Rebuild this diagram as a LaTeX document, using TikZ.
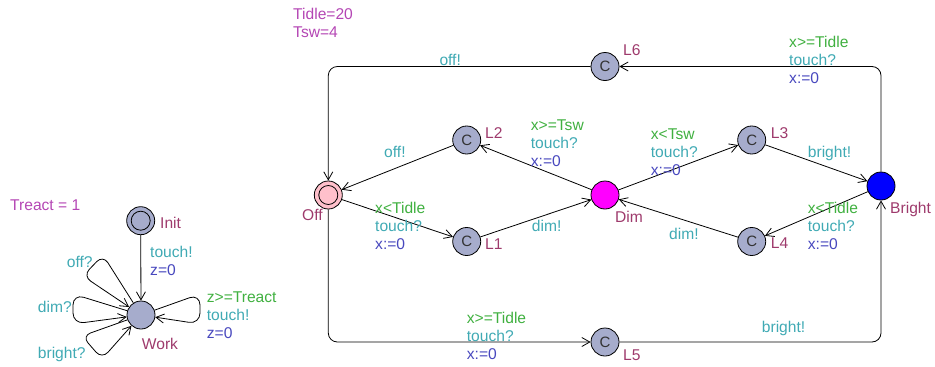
\documentclass[tikz,border=0pt]{standalone}
\usepackage{fontspec}
\setmainfont{Liberation Sans}
\usetikzlibrary{arrows.meta}
\definecolor{namec}{RGB}{158,58,108}
\definecolor{guardc}{RGB}{64,176,64}
\definecolor{syncc}{RGB}{64,170,180}
\definecolor{updc}{RGB}{72,72,190}
\definecolor{declc}{RGB}{180,70,180}
\definecolor{locfill}{RGB}{166,172,204}
\definecolor{offfill}{RGB}{255,192,203}
\definecolor{dimfill}{RGB}{255,0,255}
\definecolor{brightfill}{RGB}{0,0,255}
\begin{document}
\begin{tikzpicture}[x=1pt,y=-1pt,
  every node/.style={font=\fontsize{15.6}{18}\selectfont},
  loc/.style={circle,draw=black,line width=0.8pt,fill=locfill,minimum size=28pt,inner sep=0pt},
  comm/.style={loc,font=\fontsize{15}{18}\selectfont,text=black!80},
  edge/.style={draw=black,line width=0.8pt,-{Straight Barb[length=8pt,width=9pt,line width=0.8pt]}},
  lbl/.style={inner sep=0pt,anchor=base west},
  nm/.style={lbl,text=namec},
  sy/.style={lbl,text=syncc},
  multi/.style={inner sep=0pt,anchor=north west,align=left},
  decl/.style={multi,text=declc}
]
\useasboundingbox (0,0) rectangle (935,367);

% ---------- left automaton ----------
\node[loc] (Init) at (140.7,220.7) {};
\draw[line width=0.8pt] (Init.center) circle (9.5pt);
\node[loc] (Work) at (141,315) {};

\draw[edge] (Init) -- (Work);
\draw[edge,rounded corners=9pt] (Work) -- (103,255) -- (83,276) -- (Work);
\draw[edge,rounded corners=11pt] (Work) -- (73,294) -- (73,324) -- (Work);
\draw[edge,rounded corners=9pt] (Work) -- (82,336) -- (102,359) -- (Work);
\draw[edge,rounded corners=11pt] (Work) -- (200,294) -- (200,324) -- (Work);

\node[lbl,text=declc] (treact) at (10,210.4) {Treact = 1};
\node[nm] (initname) at (160,228.1) {Init};
\node[nm] (workname) at (141.7,349.4) {Work};
\node[multi] (initlab) at (150,246.4) {\textcolor{syncc}{touch!}\\\textcolor{updc}{z=0}};
\node[sy] (offq) at (66.7,267.1) {off?};
\node[sy] (dimq) at (37.7,312.7) {dim?};
\node[sy] (brightq) at (37.7,358.7) {bright?};
\node[multi] (rlab) at (206.7,292) {\textcolor{guardc}{z>=Treact}\\\textcolor{syncc}{touch!}\\\textcolor{updc}{z=0}};

% ---------- right automaton ----------
\node[decl] (decl) at (293,8) {Tidle=20\\Tsw=4};

\node[loc,fill=offfill] (Off) at (328.3,195) {};
\draw[line width=0.8pt] (Off.center) circle (9.5pt);
\node[comm] (L2) at (466.7,140) {C};
\node[comm] (L1) at (466.7,241.5) {C};
\node[loc,fill=dimfill] (Dim) at (605,195) {};
\node[comm] (L3) at (751.7,140) {C};
\node[comm] (L4) at (751.7,241.5) {C};
\node[loc,fill=brightfill] (Bright) at (881,186) {};
\node[comm] (L6) at (605,66.5) {C};
\node[comm] (L5) at (605,342) {C};

\draw[edge,rounded corners=9pt] (L6) -| (Off);
\draw[edge,rounded corners=9pt] (Bright) |- (L6);
\draw[edge,rounded corners=9pt] (Off) |- (L5);
\draw[edge,rounded corners=9pt] (L5) -| (Bright);
\draw[edge] (L2) -- (Off);
\draw[edge] (Dim) -- (L2);
\draw[edge] (Off) -- (L1);
\draw[edge] (L1) -- (Dim);
\draw[edge] (Dim) -- (L3);
\draw[edge] (L3) -- (Bright);
\draw[edge] (Bright) -- (L4);
\draw[edge] (L4) -- (Dim);

\node[nm] (offname) at (302,220.4) {Off};
\node[nm] (l2name) at (485,138.4) {L2};
\node[nm] (l1name) at (485,249.4) {L1};
\node[nm] (dimname) at (615,222.1) {Dim};
\node[nm] (l3name) at (770.7,138.4) {L3};
\node[nm] (l4name) at (770.7,248.4) {L4};
\node[nm] (brightname) at (890,213.1) {Bright};
\node[nm] (l6name) at (623,55.4) {L6};
\node[nm] (l5name) at (623,360.4) {L5};

\node[sy] (offtop) at (439.3,65.4) {off!};
\node[sy] (offl2) at (384,157.1) {off!};
\node[sy] (diml1) at (531.7,231.1) {dim!};
\node[sy] (diml4) at (669,239.4) {dim!};
\node[sy] (brl3) at (807.7,157.1) {bright!};
\node[sy] (brl5) at (761.7,332.1) {bright!};

\node[multi] (g1) at (530.7,119.7) {\textcolor{guardc}{x>=Tsw}\\\textcolor{syncc}{touch?}\\\textcolor{updc}{x:=0}};
\node[multi] (g2) at (650.7,128.7) {\textcolor{guardc}{x<Tsw}\\\textcolor{syncc}{touch?}\\\textcolor{updc}{x:=0}};
\node[multi] (g3) at (789,36.4) {\textcolor{guardc}{x>=Tidle}\\\textcolor{syncc}{touch?}\\\textcolor{updc}{x:=0}};
\node[multi] (g4) at (375,202) {\textcolor{guardc}{x<Tidle}\\\textcolor{syncc}{touch?}\\\textcolor{updc}{x:=0}};
\node[multi] (g5) at (807.7,202.4) {\textcolor{guardc}{x<Tidle}\\\textcolor{syncc}{touch?}\\\textcolor{updc}{x:=0}};
\node[multi] (g6) at (466.7,311.7) {\textcolor{guardc}{x>=Tidle}\\\textcolor{syncc}{touch?}\\\textcolor{updc}{x:=0}};
\end{tikzpicture}
\end{document}
